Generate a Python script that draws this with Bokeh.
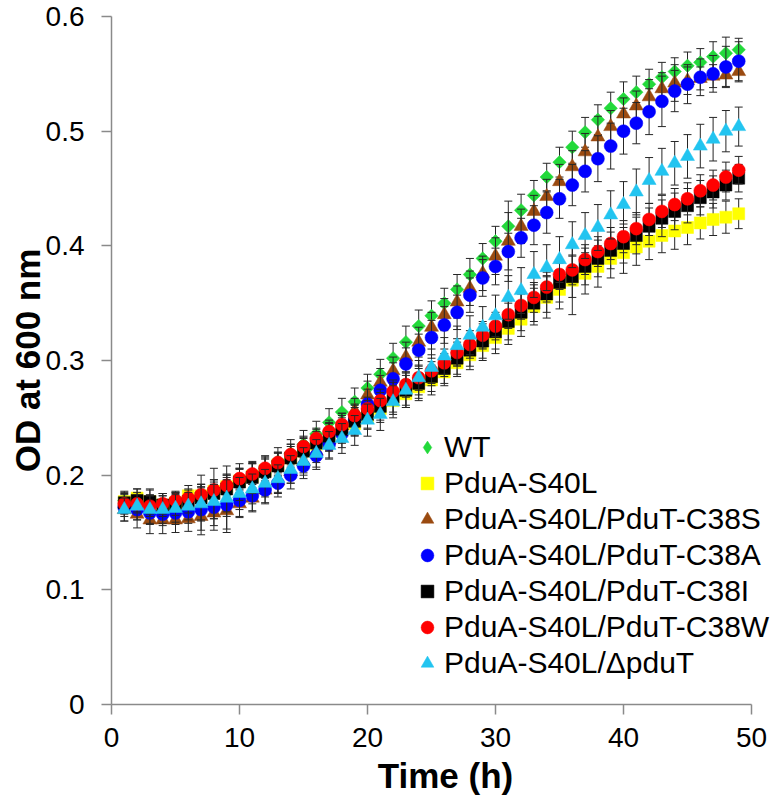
import math
from bokeh.plotting import figure
from bokeh.models import Range1d, FixedTicker, CustomJSTickFormatter, Legend, LegendItem
from bokeh.embed import file_html
from bokeh.resources import INLINE

# ---------------- data ----------------
time_h = list(range(1, 50))

series_labels = ["WT", "PduA-S40L", "PduA-S40L/PduT-C38S", "PduA-S40L/PduT-C38A",
                 "PduA-S40L/PduT-C38I", "PduA-S40L/PduT-C38W", "PduA-S40L/\u0394pduT"]

wt = [0.178, 0.177, 0.176, 0.175, 0.176, 0.178, 0.181, 0.185, 0.190, 0.195,
      0.200, 0.206, 0.212, 0.219, 0.227, 0.236, 0.246, 0.255, 0.264, 0.276,
      0.288, 0.302, 0.316, 0.330, 0.339, 0.350, 0.362, 0.375, 0.389, 0.404,
      0.417, 0.431, 0.444, 0.460, 0.473, 0.486, 0.499, 0.510, 0.520, 0.528,
      0.534, 0.541, 0.547, 0.552, 0.557, 0.560, 0.565, 0.568, 0.571]
s40l = [0.177, 0.180, 0.177, 0.174, 0.176, 0.182, 0.182, 0.186, 0.190, 0.195,
        0.199, 0.204, 0.209, 0.215, 0.221, 0.227, 0.233, 0.239, 0.245, 0.251,
        0.258, 0.265, 0.271, 0.277, 0.283, 0.290, 0.298, 0.305, 0.313, 0.320,
        0.328, 0.336, 0.347, 0.355, 0.362, 0.370, 0.376, 0.382, 0.389, 0.394,
        0.399, 0.404, 0.409, 0.413, 0.416, 0.420, 0.423, 0.425, 0.428]
c38s = [0.170, 0.166, 0.161, 0.161, 0.161, 0.162, 0.164, 0.167, 0.169, 0.175,
        0.180, 0.187, 0.195, 0.203, 0.212, 0.221, 0.231, 0.243, 0.256, 0.270,
        0.281, 0.291, 0.303, 0.316, 0.329, 0.340, 0.351, 0.363, 0.376, 0.391,
        0.404, 0.417, 0.430, 0.443, 0.456, 0.469, 0.482, 0.495, 0.504, 0.515,
        0.522, 0.530, 0.537, 0.542, 0.544, 0.546, 0.548, 0.549, 0.552]
c38a = [0.172, 0.170, 0.167, 0.166, 0.167, 0.168, 0.170, 0.172, 0.174, 0.178,
        0.182, 0.187, 0.193, 0.200, 0.208, 0.217, 0.227, 0.236, 0.248, 0.262,
        0.274, 0.284, 0.297, 0.309, 0.320, 0.331, 0.342, 0.357, 0.372, 0.382,
        0.395, 0.407, 0.418, 0.429, 0.441, 0.453, 0.465, 0.476, 0.487, 0.500,
        0.507, 0.517, 0.526, 0.535, 0.541, 0.547, 0.550, 0.556, 0.561]
c38i = [0.176, 0.178, 0.177, 0.174, 0.175, 0.177, 0.180, 0.184, 0.188, 0.194,
        0.198, 0.203, 0.208, 0.215, 0.221, 0.228, 0.234, 0.240, 0.247, 0.253,
        0.260, 0.268, 0.274, 0.280, 0.286, 0.293, 0.302, 0.309, 0.317, 0.325,
        0.334, 0.342, 0.350, 0.358, 0.368, 0.373, 0.382, 0.389, 0.396, 0.402,
        0.409, 0.417, 0.424, 0.430, 0.435, 0.442, 0.447, 0.453, 0.459]
c38w = [0.175, 0.175, 0.173, 0.175, 0.178, 0.180, 0.183, 0.187, 0.191, 0.197,
        0.201, 0.206, 0.211, 0.218, 0.225, 0.232, 0.238, 0.244, 0.252, 0.258,
        0.265, 0.273, 0.279, 0.285, 0.291, 0.298, 0.307, 0.314, 0.322, 0.330,
        0.340, 0.348, 0.355, 0.364, 0.375, 0.379, 0.388, 0.395, 0.402, 0.408,
        0.415, 0.423, 0.430, 0.436, 0.441, 0.448, 0.453, 0.460, 0.466]
dpdut = [0.170, 0.173, 0.170, 0.170, 0.171, 0.173, 0.175, 0.177, 0.180, 0.184,
         0.188, 0.193, 0.197, 0.205, 0.212, 0.219, 0.226, 0.232, 0.239, 0.248,
         0.253, 0.264, 0.274, 0.285, 0.294, 0.304, 0.313, 0.322, 0.329, 0.339,
         0.355, 0.361, 0.375, 0.381, 0.388, 0.401, 0.409, 0.416, 0.427, 0.436,
         0.447, 0.457, 0.465, 0.472, 0.478, 0.487, 0.493, 0.500, 0.504]

wt_err = [0.006, 0.007, 0.007, 0.007, 0.008, 0.008, 0.009, 0.009, 0.010, 0.010,
          0.011, 0.011, 0.012, 0.012, 0.012, 0.011, 0.012, 0.012, 0.012, 0.012,
          0.013, 0.013, 0.014, 0.014, 0.013, 0.013, 0.013, 0.014, 0.013, 0.013,
          0.012, 0.014, 0.013, 0.012, 0.013, 0.014, 0.013, 0.013, 0.014, 0.015,
          0.014, 0.013, 0.013, 0.012, 0.012, 0.012, 0.013, 0.014, 0.010]
s40l_err = [0.008, 0.008, 0.010, 0.010, 0.009, 0.009, 0.010, 0.010, 0.011, 0.011,
            0.011, 0.010, 0.010, 0.010, 0.011, 0.011, 0.012, 0.011, 0.011, 0.011,
            0.012, 0.012, 0.012, 0.012, 0.013, 0.012, 0.012, 0.013, 0.013, 0.014,
            0.014, 0.015, 0.016, 0.018, 0.017, 0.030, 0.018, 0.018, 0.017, 0.018,
            0.016, 0.016, 0.015, 0.016, 0.015, 0.014, 0.014, 0.014, 0.013]
c38s_err = [0.010, 0.012, 0.012, 0.012, 0.011, 0.011, 0.012, 0.011, 0.016, 0.012,
            0.012, 0.011, 0.011, 0.010, 0.010, 0.010, 0.010, 0.011, 0.011, 0.012,
            0.012, 0.012, 0.013, 0.013, 0.013, 0.014, 0.014, 0.015, 0.015, 0.016,
            0.035, 0.015, 0.014, 0.015, 0.015, 0.014, 0.016, 0.018, 0.014, 0.014,
            0.013, 0.015, 0.014, 0.016, 0.012, 0.010, 0.010, 0.010, 0.009]
c38a_err = [0.008, 0.009, 0.010, 0.010, 0.010, 0.010, 0.022, 0.020, 0.024, 0.014,
            0.013, 0.012, 0.012, 0.012, 0.011, 0.012, 0.012, 0.012, 0.013, 0.013,
            0.013, 0.014, 0.014, 0.014, 0.015, 0.016, 0.015, 0.015, 0.016, 0.016,
            0.016, 0.017, 0.017, 0.018, 0.017, 0.018, 0.018, 0.020, 0.020, 0.020,
            0.018, 0.020, 0.022, 0.018, 0.017, 0.016, 0.016, 0.018, 0.017]
c38i_err = [0.010, 0.010, 0.011, 0.010, 0.010, 0.010, 0.020, 0.022, 0.020, 0.016,
            0.014, 0.013, 0.012, 0.012, 0.012, 0.012, 0.012, 0.012, 0.012, 0.012,
            0.012, 0.013, 0.013, 0.013, 0.013, 0.013, 0.014, 0.014, 0.015, 0.015,
            0.016, 0.016, 0.016, 0.016, 0.017, 0.018, 0.016, 0.016, 0.016, 0.017,
            0.016, 0.016, 0.016, 0.016, 0.015, 0.015, 0.014, 0.013, 0.012]
c38w_err = [0.008, 0.008, 0.009, 0.009, 0.008, 0.008, 0.009, 0.009, 0.009, 0.009,
            0.009, 0.009, 0.009, 0.009, 0.009, 0.009, 0.010, 0.010, 0.010, 0.010,
            0.010, 0.010, 0.011, 0.011, 0.011, 0.012, 0.012, 0.012, 0.012, 0.012,
            0.012, 0.012, 0.013, 0.013, 0.013, 0.013, 0.013, 0.013, 0.014, 0.014,
            0.014, 0.014, 0.014, 0.014, 0.014, 0.014, 0.013, 0.013, 0.012]
dpdut_err = [0.010, 0.012, 0.012, 0.012, 0.012, 0.012, 0.014, 0.015, 0.016, 0.014,
             0.013, 0.012, 0.012, 0.012, 0.012, 0.012, 0.012, 0.013, 0.013, 0.014,
             0.014, 0.014, 0.015, 0.015, 0.016, 0.016, 0.017, 0.017, 0.018, 0.018,
             0.019, 0.020, 0.020, 0.020, 0.020, 0.020, 0.020, 0.020, 0.021, 0.020,
             0.020, 0.020, 0.020, 0.019, 0.019, 0.019, 0.019, 0.018, 0.017]

x_ticks = [0, 10, 20, 30, 40, 50]
y_ticks = [0, 0.1, 0.2, 0.3, 0.4, 0.5, 0.6]
x_axis_end = 50

# ---------------- styles ----------------
styles = [
    dict(marker="square", legend_marker="diamond", color="#22D93A", size=9.5, angle=math.pi / 4),
    dict(marker="square", legend_marker="square", color="#FFFF00", size=12, angle=0),
    dict(marker="triangle", legend_marker="triangle", color="#9A4A10", size=14, angle=0),
    dict(marker="circle", legend_marker="circle", color="#0000FF", size=13, angle=0),
    dict(marker="square", legend_marker="square", color="#000000", size=12, angle=0),
    dict(marker="circle", legend_marker="circle", color="#FF0000", size=13, angle=0),
    dict(marker="triangle", legend_marker="triangle", color="#22C4F0", size=14, angle=0),
]
values = [wt, s40l, c38s, c38a, c38i, c38w, dpdut]
errors = [wt_err, s40l_err, c38s_err, c38a_err, c38i_err, c38w_err, dpdut_err]

FONT = "Liberation Sans"
BAR = "#262626"

# layout: the drawing frame runs to the right edge of the canvas so that the
# legend text (which extends past x = 50) is not clipped; the axis line stops at 50.
W, H = 779, 804
LEFT, TOP, BOTTOM = 111, 16, 100
axis_px = 640                      # pixel length of 0..50 on the x axis
frame_w = W - LEFT
x_view_end = x_axis_end * frame_w / axis_px

p = figure(width=W, height=H, output_backend="svg", toolbar_location=None,
           x_range=Range1d(0, x_view_end), y_range=Range1d(0, 0.6),
           min_border_left=LEFT, min_border_right=0, min_border_top=TOP,
           min_border_bottom=BOTTOM)
p.outline_line_color = None
p.xgrid.visible = False
p.ygrid.visible = False
p.background_fill_color = "white"

for ax in (p.xaxis[0], p.yaxis[0]):
    ax.axis_line_color = "#8A8A8A"
    ax.axis_line_width = 1.5
    ax.major_tick_line_color = "#8A8A8A"
    ax.major_tick_line_width = 1.5
    ax.major_tick_in = 0
    ax.major_tick_out = 10
    ax.minor_tick_line_color = None
    ax.major_label_text_font = FONT
    ax.major_label_text_font_size = "28px"
    ax.major_label_text_color = "#000000"
    ax.axis_label_text_font = FONT
    ax.axis_label_text_font_style = "bold"
    ax.axis_label_text_font_size = "35px"
    ax.axis_label_text_color = "#000000"

p.xaxis[0].bounds = (0, x_axis_end)
p.xaxis[0].ticker = FixedTicker(ticks=x_ticks)
p.yaxis[0].ticker = FixedTicker(ticks=y_ticks)
p.yaxis[0].formatter = CustomJSTickFormatter(code="return tick == 0 ? '0' : tick.toFixed(1);")
p.xaxis[0].axis_label = "Time (h)"
p.yaxis[0].axis_label = "OD at 600 nm"
p.xaxis[0].major_label_standoff = 13
p.yaxis[0].major_label_standoff = 17
p.xaxis[0].axis_label_standoff = 6
p.yaxis[0].axis_label_standoff = -4

items = []
for label, vals, errs, st in zip(series_labels, values, errors, styles):
    upper = [v + e for v, e in zip(vals, errs)]
    lower = [v - e for v, e in zip(vals, errs)]
    p.segment(x0=time_h, x1=time_h, y0=lower, y1=upper, line_color=BAR, line_width=1)
    p.scatter(x=time_h + time_h, y=upper + lower, marker="dash", size=8,
              line_color=BAR, line_width=1)
    p.scatter(x=time_h, y=vals, marker=st["marker"], size=st["size"], angle=st["angle"],
              fill_color=st["color"], line_color=st["color"], line_width=0.5)
    # legend-only renderer (NaN point, nothing drawn in the plot area)
    lr = p.scatter(x=[float("nan")], y=[float("nan")], marker=st["legend_marker"],
                   fill_color=st["color"], line_color=st["color"], line_width=0.5)
    items.append(LegendItem(label=label, renderers=[lr]))

legend = Legend(items=items, location=(300, 23), padding=0, margin=0, spacing=0,
                glyph_width=32, glyph_height=36, label_height=36, label_standoff=1,
                label_text_font=FONT, label_text_font_size="30px", label_text_color="#000000",
                background_fill_alpha=0, border_line_color=None)
p.add_layout(legend)

open("out.html", "w").write(file_html(p, INLINE))
